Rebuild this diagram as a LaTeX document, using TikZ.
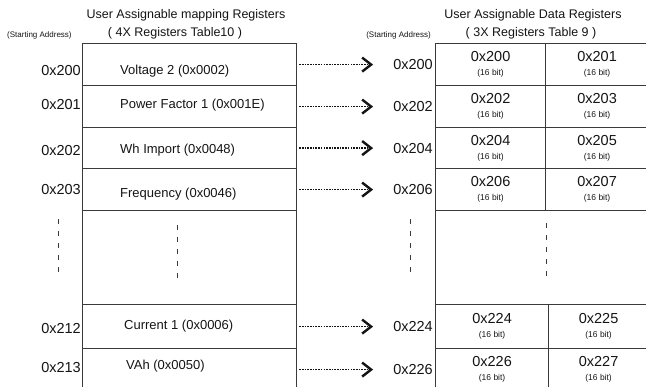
\documentclass[tikz,border=0pt]{standalone}
\usepackage{fontspec}
\setmainfont{Liberation Sans}
\usepackage{tikz}
\usetikzlibrary{arrows.meta,positioning}
\definecolor{rule}{HTML}{3A3A3A}
\definecolor{ink}{HTML}{141414}
\newcommand{\wordcell}[1]{{\fontsize{14.5}{14}\selectfont #1}\\{\fontsize{8.5}{10}\selectfont (16 bit)}}

\begin{document}
\begin{tikzpicture}[x=1pt,y=-1pt,
    every node/.style={text=ink,inner sep=0pt},
    maprow/.style={draw=rule,line width=1.2pt,minimum width=214pt,anchor=north west},
    rowtext/.style={font=\fontsize{13}{15}\selectfont},
    addr/.style={font=\fontsize{14.5}{16}\selectfont},
    hint/.style={font=\fontsize{8}{10}\selectfont},
    title/.style={font=\fontsize{12.5}{14}\selectfont},
    datacell/.style={draw=rule,line width=1.2pt,anchor=north west,align=center,
                     font=\fontsize{8.5}{14}\selectfont},
    maplink/.style={draw=ink,line width=1.2pt,dash pattern=on 1.6pt off 1.1pt,
                    shorten <=2pt,shorten >=20pt,
                    -{Straight Barb[length=9pt,width=14pt,line width=2.4pt]}},
    gap/.style={draw=rule,line width=1pt,dash pattern=on 5pt off 7pt}]
    \useasboundingbox (0,0) rectangle (646,387);
    \clip (0,0) rectangle (646,387);
    % headings
    \node[title] (mapHead) at (186,15) {User Assignable mapping Registers};
    \node[title] (mapTab) at (175,33) {( 4X Registers Table10 )};
    \node[title] (dataHead) at (533,15) {User Assignable Data Registers};
    \node[title] (dataTab) at (531,33) {( 3X Registers Table 9 )};
    \node[hint,anchor=west] (mapStart) at (7,35) {(Starting Address)};
    \node[hint,anchor=east] (dataStart) at (431,35) {(Starting Address)};
    % mapping registers (4X)
    \node[maprow,minimum height=42pt] (volt) at (82,43) {};
    \node[maprow,minimum height=42pt] (pf) at (82,85) {};
    \node[maprow,minimum height=41pt] (wh) at (82,127) {};
    \node[maprow,minimum height=42pt] (freq) at (82,168) {};
    \node[maprow,minimum height=94pt] (mapskip) at (82,210) {};
    \node[maprow,minimum height=44pt] (curr) at (82,304) {};
    \node[maprow,minimum height=42pt] (vah) at (82,348) {};
    \node[rowtext,right=38pt of volt.west,yshift=-7pt] (voltT) {Voltage 2 (0x0002)};
    \node[rowtext,right=38pt of pf.west,yshift=1pt] (pfT) {Power Factor 1 (0x001E)};
    \node[rowtext,right=38pt of wh.west,yshift=-2pt] (whT) {Wh Import (0x0048)};
    \node[rowtext,right=38pt of freq.west,yshift=-5pt] (freqT) {Frequency (0x0046)};
    \node[rowtext,right=42pt of curr.west] (currT) {Current 1 (0x0006)};
    \node[rowtext,right=44pt of vah.west,yshift=3pt] (vahT) {VAh (0x0050)};
    \node[addr,left=1pt of volt.west,yshift=-6pt] (m200) {0x200};
    \node[addr,left=1pt of pf.west,yshift=2pt] (m201) {0x201};
    \node[addr,left=1pt of wh.west,yshift=-2pt] (m202) {0x202};
    \node[addr,left=1pt of freq.west] (m203) {0x203};
    \node[addr,left=1pt of curr.west,yshift=-2pt] (m212) {0x212};
    \node[addr,left=1pt of vah.west,yshift=2pt] (m213) {0x213};
    % data registers (3X)
    \node[datacell,minimum width=110pt,minimum height=42pt] (w200) at (435,43) {\wordcell{0x200}};
    \node[datacell,minimum width=103pt,minimum height=42pt] (w201) at (545,43) {\wordcell{0x201}};
    \node[datacell,minimum width=110pt,minimum height=42pt] (w202) at (435,85) {\wordcell{0x202}};
    \node[datacell,minimum width=103pt,minimum height=42pt] (w203) at (545,85) {\wordcell{0x203}};
    \node[datacell,minimum width=110pt,minimum height=41pt] (w204) at (435,127) {\wordcell{0x204}};
    \node[datacell,minimum width=103pt,minimum height=41pt] (w205) at (545,127) {\wordcell{0x205}};
    \node[datacell,minimum width=110pt,minimum height=42pt] (w206) at (435,168) {\wordcell{0x206}};
    \node[datacell,minimum width=103pt,minimum height=42pt] (w207) at (545,168) {\wordcell{0x207}};
    \node[datacell,minimum width=213pt,minimum height=94pt] (dataskip) at (435,210) {};
    \node[datacell,minimum width=113pt,minimum height=44pt] (w224) at (435,304) {\wordcell{0x224}};
    \node[datacell,minimum width=100pt,minimum height=44pt] (w225) at (548,304) {\wordcell{0x225}};
    \node[datacell,minimum width=113pt,minimum height=42pt] (w226) at (435,348) {\wordcell{0x226}};
    \node[datacell,minimum width=100pt,minimum height=42pt] (w227) at (548,348) {\wordcell{0x227}};
    \node[addr,left=2pt of w200.west] (d200) {0x200};
    \node[addr,left=2pt of w202.west] (d202) {0x202};
    \node[addr,left=2pt of w204.west] (d204) {0x204};
    \node[addr,left=2pt of w206.west] (d206) {0x206};
    \node[addr,left=2pt of w224.west] (d224) {0x224};
    \node[addr,left=2pt of w226.west] (d226) {0x226};
    % links
    \draw[maplink] (volt.east) -- (d200.west);
    \draw[maplink] (pf.east) -- (d202.west);
    \draw[maplink] (wh.east) -- (d204.west);
    \draw[maplink] (freq.east) -- (d206.west);
    \draw[maplink] (curr.east) -- (d224.west);
    \draw[maplink] (vah.east) -- (d226.west);
    % skipped rows
    \draw[gap] (58,219) -- (58,277);
    \draw[gap] (177,225) -- (177,282);
    \draw[gap] (410,219) -- (410,277);
    \draw[gap] (546,223) -- (546,281);
\end{tikzpicture}
\end{document}
